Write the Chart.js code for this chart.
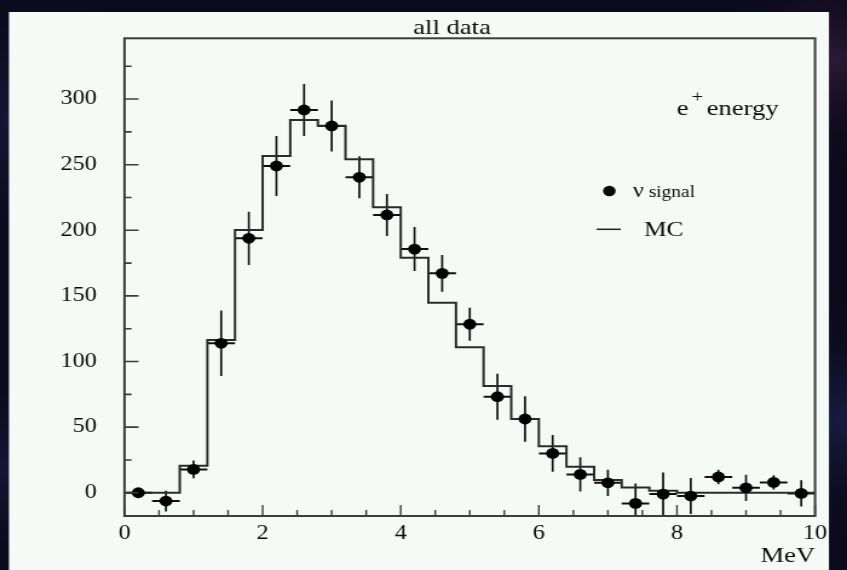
<!DOCTYPE html>
<html><head><meta charset="utf-8">
<script src="https://cdn.jsdelivr.net/npm/chart.js@4/dist/chart.umd.min.js"></script>
<style>
html,body{margin:0;padding:0;background:#0b0a1c;overflow:hidden}
#c{display:block}
</style>
</head><body>
<canvas id="c" width="700" height="570" style="width:847px;height:570px"></canvas>
<script>
// ---- data ----
const binWidth = 0.4;
const binCenters = [0.2,0.6,1.0,1.4,1.8,2.2,2.6,3.0,3.4,3.8,4.2,4.6,5.0,5.4,5.8,6.2,6.6,7.0,7.4,7.8,8.2,8.6,9.0,9.4,9.8];
const signalCounts = [0,-6.3,17.8,113.9,193.9,249,291.7,279.5,240.4,211.7,185.7,167.2,128.4,73.2,56.2,30,14,7.6,-8.1,-1,-2.5,12,3.8,7.9,-0.5];
const signalErrors = [3,7.9,6.8,25,20.3,22.9,19.8,19.4,16,16,16.8,14,12.6,17.5,17.4,14,13,10,15.2,16.5,13.7,5.5,10,5.5,10];
const mcEdges = [0,0.4,0.8,1.2,1.6,2.0,2.4,2.8,3.2,3.6,4.0,4.4,4.8,5.2,5.6,6.0,6.4,6.8,7.2,7.6,8.0,8.4,8.8,9.2,9.6,10.0];
const mcCounts = [0,0,20.6,116.4,200.2,256.6,284.1,279.7,254.1,217.5,179.1,144.8,110.8,81.3,56.2,35.4,19.8,9.7,4.1,1.5,0,0,0,0,0,0];
const xTickLabels = [0,2,4,6,8,10];
const xMinorTicks = [0.5,1,1.5,2.5,3,3.5,4.5,5,5.5,6.5,7,7.5,8.5,9,9.5];
const yTickLabels = [0,50,100,150,200,250,300];
const yMinorTicks = [25,75,125,175,225,275,325];
const yRange = [-17.7, 346.3];
const xRange = [0, 10];

const serif = '"Liberation Serif", "Times New Roman", serif';

const backgroundPlugin = {
  id: 'bg',
  beforeDraw(chart) {
    const ctx = chart.ctx, W = chart.width, H = chart.height;
    ctx.save();
    ctx.fillStyle = '#0b0a1c';
    ctx.fillRect(0, 0, W, H);
    const blobs = [[40,120,160,'rgba(70,60,140,0.35)'],[690,60,120,'rgba(120,60,110,0.30)'],[695,420,140,'rgba(50,60,130,0.35)'],[10,470,130,'rgba(60,50,120,0.30)']];
    blobs.forEach(([bx,by,r,c]) => {
      const g = ctx.createRadialGradient(bx,by,0,bx,by,r);
      g.addColorStop(0,c); g.addColorStop(1,'rgba(0,0,0,0)');
      ctx.fillStyle = g; ctx.fillRect(0,0,W,H);
    });
    ctx.fillStyle = '#f6faf7';
    ctx.fillRect(7.4, 12, 685.1 - 7.4, H - 12);
    ctx.restore();
  },
  beforeDatasetsDraw(chart) {
    const ctx = chart.ctx, xs = chart.scales.x, ys = chart.scales.y, a = chart.chartArea;
    ctx.save();
    ctx.beginPath(); ctx.rect(a.left, a.top, a.right - a.left, a.bottom - a.top); ctx.clip();
    ctx.strokeStyle = '#111';
    binCenters.forEach((c, i) => {
      const px = xs.getPixelForValue(c), py = ys.getPixelForValue(signalCounts[i]);
      const l = xs.getPixelForValue(c - binWidth / 2), r = xs.getPixelForValue(c + binWidth / 2);
      const t = ys.getPixelForValue(signalCounts[i] + signalErrors[i]);
      const b = ys.getPixelForValue(signalCounts[i] - signalErrors[i]);
      ctx.lineWidth = 2;
      ctx.beginPath(); ctx.moveTo(l, py); ctx.lineTo(r, py); ctx.stroke();
      ctx.lineWidth = 1.7;
      ctx.beginPath(); ctx.moveTo(px, t); ctx.lineTo(px, b); ctx.stroke();
    });
    ctx.restore();
  },
  afterDraw(chart) {
    const ctx = chart.ctx, xs = chart.scales.x, ys = chart.scales.y, a = chart.chartArea;
    ctx.save();
    // frame
    ctx.strokeStyle = '#3c3c3c';
    ctx.lineWidth = 2;
    ctx.strokeRect(a.left, a.top, a.right - a.left, a.bottom - a.top);
    // ticks inside
    ctx.lineWidth = 1.6;
    ctx.beginPath();
    yTickLabels.forEach(v => { const p = ys.getPixelForValue(v); ctx.moveTo(a.left, p); ctx.lineTo(a.left + 11.6, p); });
    yMinorTicks.forEach(v => { const p = ys.getPixelForValue(v); ctx.moveTo(a.left, p); ctx.lineTo(a.left + 5.8, p); });
    ctx.stroke();
    ctx.lineWidth = 1.4;
    ctx.beginPath();
    xTickLabels.forEach(v => { const p = xs.getPixelForValue(v); ctx.moveTo(p, a.bottom); ctx.lineTo(p, a.bottom - 11); });
    xMinorTicks.forEach(v => { const p = xs.getPixelForValue(v); ctx.moveTo(p, a.bottom); ctx.lineTo(p, a.bottom - 6); });
    ctx.stroke();
    // texts
    ctx.fillStyle = '#0a0a0a';
    ctx.textBaseline = 'alphabetic';
    ctx.font = '22px ' + serif;
    ctx.textAlign = 'center';
    ctx.fillText('all data', 373.6, 34);
    ctx.textAlign = 'left';
    ctx.fillText('e', 559.3, 115);
    ctx.font = '17px ' + serif;
    ctx.fillText('+', 571.5, 102);
    ctx.font = '22px ' + serif;
    ctx.fillText('energy', 584, 115);
    // legend
    ctx.beginPath(); ctx.arc(503.6, 191, 5.2, 0, Math.PI * 2); ctx.fill();
    ctx.font = '20px ' + serif;
    ctx.fillText('\u03BD', 523.1, 196.7);
    const nw = ctx.measureText('\u03BD').width;
    ctx.font = '16px ' + serif;
    ctx.fillText(' signal', 523.1 + nw, 196.7);
    ctx.strokeStyle = '#222'; ctx.lineWidth = 1.5;
    ctx.beginPath(); ctx.moveTo(493.1, 229.3); ctx.lineTo(513, 229.3); ctx.stroke();
    ctx.font = '21px ' + serif;
    ctx.fillText('MC', 532.2, 236);
    ctx.textAlign = 'right';
    ctx.font = '22px ' + serif;
    ctx.fillText('MeV', a.right, 561.7);
    ctx.restore();
  }
};

const signalPoints = binCenters.map((c, i) => ({ x: c, y: signalCounts[i] }));
const mcPoints = mcEdges.map((e, i) => ({ x: e, y: mcCounts[i] }));

new Chart(document.getElementById('c'), {
  type: 'scatter',
  data: {
    datasets: [
      { label: '\u03BD signal', data: signalPoints, pointRadius: 5.4, pointHoverRadius: 5.4,
        backgroundColor: '#000', borderColor: '#000', borderWidth: 0, clip: false },
      { type: 'line', label: 'MC', data: mcPoints, stepped: 'before', showLine: true, pointRadius: 0,
        borderColor: '#2b2b2b', borderWidth: 2, fill: false, tension: 0 }
    ]
  },
  options: {
    responsive: false,
    animation: false,
    events: [],
    layout: { padding: { top: 38.3, right: 26.4, left: 0, bottom: 0 } },
    plugins: { legend: { display: false }, tooltip: { enabled: false }, title: { display: false } },
    scales: {
      x: {
        type: 'linear', min: xRange[0], max: xRange[1],
        grid: { display: false }, border: { display: false },
        afterBuildTicks: s => { s.ticks = xTickLabels.map(v => ({ value: v })); },
        afterFit: s => { s.height = 54; },
        ticks: { color: '#0a0a0a', font: { family: serif, size: 20 }, padding: -2, maxRotation: 0, autoSkip: false }
      },
      y: {
        type: 'linear', min: yRange[0], max: yRange[1],
        grid: { display: false }, border: { display: false },
        afterBuildTicks: s => { s.ticks = yTickLabels.map(v => ({ value: v })); },
        afterFit: s => { s.width = 102.9; },
        ticks: { color: '#0a0a0a', font: { family: serif, size: 20 }, padding: 15, autoSkip: false }
      }
    }
  },
  plugins: [backgroundPlugin]
});
</script>
</body></html>
